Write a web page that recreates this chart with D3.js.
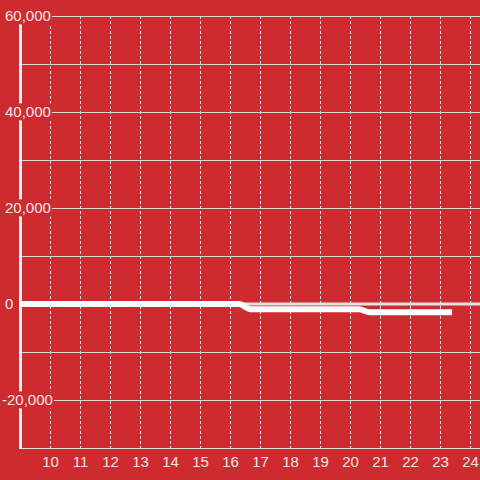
<!DOCTYPE html>
<html><head><meta charset="utf-8">
<script src="https://cdn.jsdelivr.net/npm/d3@7"></script>
<style>html,body{margin:0;padding:0;background:#ce2b30;}svg{display:block;}</style>
</head><body>
<svg id="c" width="480" height="480"></svg>
<script>
const hours = [9, 16.3, 16.7, 20.3, 20.65, 23.4];
const values = [0, 0, -1100, -1100, -1700, -1700];
const xTicks = [10,11,12,13,14,15,16,17,18,19,20,21,22,23,24];
const yLabelTicks = [60000, 40000, 20000, 0, -20000];
const yGridTicks = [60000, 50000, 40000, 30000, 20000, 10000, 0, -10000, -20000];

const svg = d3.select("#c");
const bg = "#ce2b30";
svg.append("rect").attr("width",480).attr("height",480).attr("fill",bg);

const x = d3.scaleLinear().domain([9, 9 + 460/30]).range([20, 480]);
const y = d3.scaleLinear().domain([60000, -30000]).range([16, 448]);

// horizontal gridlines
svg.append("g").selectAll("line").data(yGridTicks).join("line")
  .attr("x1", 20).attr("x2", 480)
  .attr("y1", d => y(d)).attr("y2", d => y(d))
  .attr("stroke", "#d8d8d8").attr("stroke-width", 1).attr("shape-rendering","crispEdges");

// vertical dashed gridlines
svg.append("g").selectAll("line").data(xTicks).join("line")
  .attr("x1", d => Math.round(x(d)) + 0.5).attr("x2", d => Math.round(x(d)) + 0.5)
  .attr("y1", y(60000)).attr("y2", y(-30000))
  .attr("stroke", "#dddddd").attr("stroke-width", 1).attr("stroke-dasharray", "3,2");

// x axis line
svg.append("line").attr("x1", 20).attr("x2", 480).attr("y1", y(-30000)+0.5).attr("y2", y(-30000)+0.5)
  .attr("stroke", "#dddddd").attr("stroke-width", 1);

// y axis line
svg.append("line").attr("x1", 20.5).attr("x2", 20.5).attr("y1", y(60000)).attr("y2", y(-30000)+1)
  .attr("stroke", "#f4f4f4").attr("stroke-width", 3);

// zero line
svg.append("line").attr("x1", 20).attr("x2", 480).attr("y1", y(0)).attr("y2", y(0))
  .attr("stroke", "#e4e4e4").attr("stroke-width", 3);

// data line
const data = hours.map((h, i) => [h, values[i]]);
svg.append("path").datum(data)
  .attr("d", d3.line().x(d => x(d[0])).y(d => y(d[1])).curve(d3.curveMonotoneX))
  .attr("fill", "none").attr("stroke", "#ffffff").attr("stroke-width", 6);

// y labels with background
const yl = svg.append("g").selectAll("g").data(yLabelTicks).join("g")
  .attr("transform", d => `translate(${d < 0 ? 2 : 5},${y(d)})`);
yl.append("text")
  .attr("text-anchor", "start").attr("dy", "0.36em")
  .attr("font-family", "Liberation Sans, Arial, sans-serif").attr("font-size", 15)
  .attr("fill", "#f6e4e4").text(d => d3.format(",")(d).replace("−", "-"))
  .each(function() {
    const b = this.getBBox();
    d3.select(this.parentNode).insert("rect", "text")
      .attr("x", b.x - 1).attr("y", b.y).attr("width", b.width + 2).attr("height", b.height)
      .attr("fill", bg);
  });

// x labels
svg.append("g").selectAll("text").data(xTicks).join("text")
  .attr("x", d => x(d) + 0.5).attr("y", 467)
  .attr("text-anchor", "middle")
  .attr("font-family", "Liberation Sans, Arial, sans-serif").attr("font-size", 15)
  .attr("fill", "#f6e4e4").text(d => d);
</script>
</body></html>
